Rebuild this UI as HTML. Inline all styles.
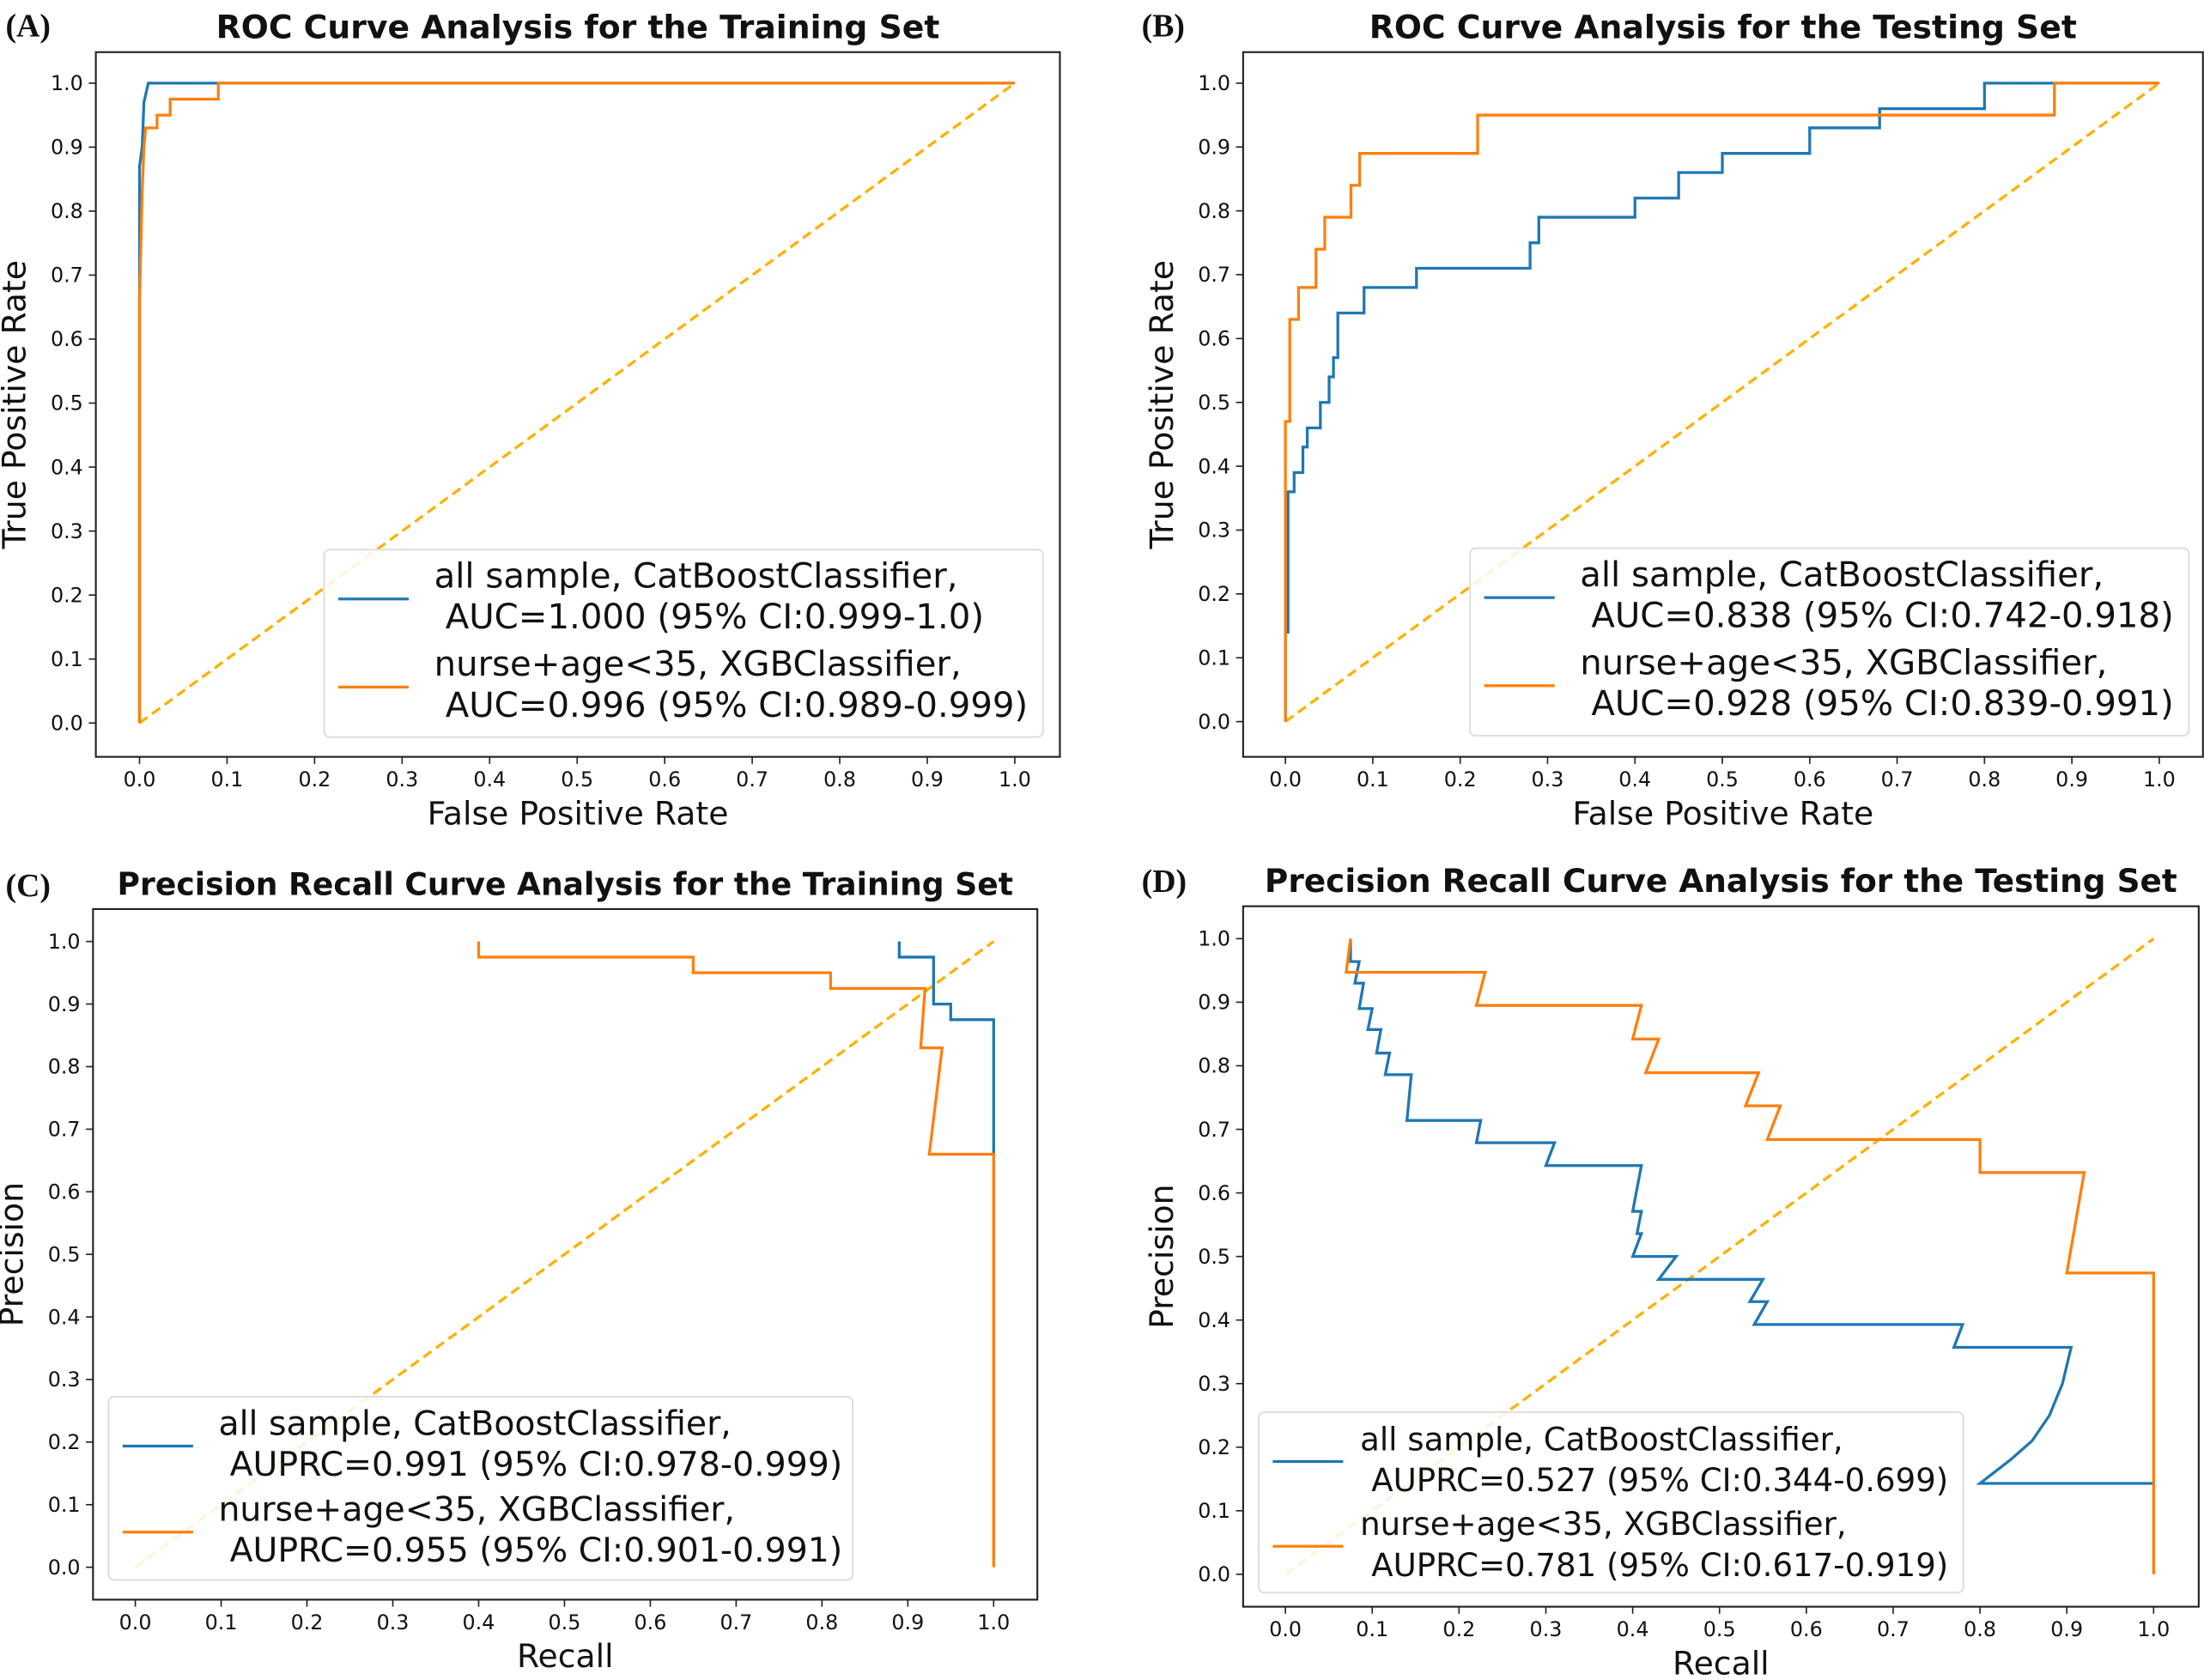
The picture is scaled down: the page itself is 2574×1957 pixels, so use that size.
<!DOCTYPE html>
<html><head><meta charset="utf-8"><style>
html,body{margin:0;padding:0;background:#fff;}
svg{display:block;}
text{font-family:"DejaVu Sans","Liberation Sans",sans-serif;fill:#111;}
</style></head><body>
<svg id="fig" width="2574" height="1957" viewBox="0 0 1568 1192" preserveAspectRatio="none" xmlns="http://www.w3.org/2000/svg"></svg>
<script>
// ---- data ----
const rocTrainBlueX=[0,0,0,0.003,0.005,0.01,1];
const rocTrainBlueY=[0,0.66,0.87,0.9,0.97,1.0,1.0];
const rocTrainOrX=[0,0,0.003,0.005,0.007,0.02,0.02,0.035,0.035,0.09,0.09,1];
const rocTrainOrY=[0,0.66,0.83,0.9,0.93,0.93,0.95,0.95,0.975,0.975,1,1];
const rocTestBlueX=[0,0,0.003,0.003,0.01,0.01,0.02,0.02,0.025,0.025,0.04,0.04,0.05,0.05,0.055,0.055,0.06,0.06,0.09,0.09,0.15,0.15,0.28,0.28,0.29,0.29,0.4,0.4,0.45,0.45,0.5,0.5,0.6,0.6,0.68,0.68,0.8,0.8,1];
const rocTestBlueY=[0,0.14,0.14,0.36,0.36,0.39,0.39,0.43,0.43,0.46,0.46,0.5,0.5,0.54,0.54,0.57,0.57,0.64,0.64,0.68,0.68,0.71,0.71,0.75,0.75,0.79,0.79,0.82,0.82,0.86,0.86,0.89,0.89,0.93,0.93,0.96,0.96,1,1];
const rocTestOrX=[0,0,0.005,0.005,0.015,0.015,0.035,0.035,0.045,0.045,0.075,0.075,0.085,0.085,0.22,0.22,0.88,0.88,1];
const rocTestOrY=[0,0.47,0.47,0.63,0.63,0.68,0.68,0.74,0.74,0.79,0.79,0.84,0.84,0.89,0.89,0.95,0.95,1,1];
const prTrainBlueX=[0.89,0.89,0.93,0.93,0.95,0.95,1.0,1.0];
const prTrainBlueY=[1.0,0.975,0.975,0.9,0.9,0.875,0.875,0.66];
const prTrainOrX=[0.4,0.4,0.65,0.65,0.81,0.81,0.92,0.915,0.94,0.925,1.0,1.0];
const prTrainOrY=[1.0,0.975,0.975,0.95,0.95,0.925,0.925,0.83,0.83,0.66,0.66,0];
const prTestBlueX=[0.075,0.075,0.085,0.08,0.09,0.085,0.1,0.095,0.11,0.105,0.12,0.115,0.145,0.14,0.225,0.22,0.31,0.3,0.41,0.4,0.41,0.405,0.41,0.4,0.45,0.43,0.55,0.535,0.555,0.54,0.78,0.77,0.905,0.895,0.88,0.86,0.835,0.8,1.0];
const prTestBlueY=[1.0,0.964,0.964,0.93,0.93,0.89,0.89,0.857,0.857,0.82,0.82,0.786,0.786,0.714,0.714,0.679,0.679,0.643,0.643,0.571,0.571,0.536,0.536,0.5,0.5,0.464,0.464,0.429,0.429,0.393,0.393,0.357,0.357,0.3,0.25,0.21,0.18,0.143,0.143];
const prTestOrX=[0.075,0.07,0.23,0.22,0.41,0.4,0.43,0.415,0.545,0.53,0.57,0.555,0.8,0.8,0.92,0.9,1.0,1.0];
const prTestOrY=[1.0,0.947,0.947,0.895,0.895,0.842,0.842,0.789,0.789,0.737,0.737,0.684,0.684,0.632,0.632,0.474,0.474,0];
const tickLabels=["0.0","0.1","0.2","0.3","0.4","0.5","0.6","0.7","0.8","0.9","1.0"];
const tickValues=[0,0.1,0.2,0.3,0.4,0.5,0.6,0.7,0.8,0.9,1.0];

const NS="http://www.w3.org/2000/svg";
const svg=document.getElementById('fig');
function mk(tag,attrs,parent,txt){const e=document.createElementNS(NS,tag);for(const k in attrs)e.setAttribute(k,attrs[k]);if(txt!==undefined)e.textContent=txt;(parent||svg).appendChild(e);return e;}

function panel(cfg){
  const g=mk('g',{});
  
  
  const sx=v=>cfg.x0+(cfg.x1-cfg.x0)*v;
  const sy=v=>cfg.y0+(cfg.y1-cfg.y0)*v;
  const fr=mk('rect',{x:cfg.bx0,y:cfg.by0,width:cfg.bx1-cfg.bx0,height:cfg.by1-cfg.by0,fill:'none',stroke:'#222','stroke-width':1.3},g);
  
  
  tickValues.forEach((v,i)=>{
    mk('line',{x1:sx(v),x2:sx(v),y1:cfg.by1,y2:cfg.by1+5,stroke:'#222','stroke-width':1},g);
    const tx=mk('text',{x:sx(v),y:cfg.by1+21,'font-size':14.5,'text-anchor':'middle'},g,tickLabels[i]);
    
    
    mk('line',{x1:cfg.bx0-5,x2:cfg.bx0,y1:sy(v),y2:sy(v),stroke:'#222','stroke-width':1},g);
    const ty=mk('text',{x:cfg.bx0-9,y:sy(v)+5,'font-size':14.5,'text-anchor':'end'},g,tickLabels[i]);
    
    
  });
  const d=mk('line',{x1:sx(0),y1:sy(0),x2:sx(1),y2:sy(1),stroke:'#ffb000','stroke-width':2,'stroke-dasharray':'7,4'},g);
  
  
  function series(xs,ys,color,name){
    const p=xs.map((x,i)=>sx(x).toFixed(2)+','+sy(ys[i]).toFixed(2)).join(' ');
    const l=mk('polyline',{points:p,fill:'none',stroke:color,'stroke-width':2,'stroke-linejoin':'miter'},g);
    
    
  }
  series(cfg.bx,cfg.by,'#1f77b4','catboost-curve');
  series(cfg.ox,cfg.oy,'#ff7f0e','xgb-curve');
  const t=mk('text',{x:(cfg.bx0+cfg.bx1)/2,y:cfg.by0-10,'font-size':cfg.tfs,'font-weight':'bold','text-anchor':'middle'},g,cfg.title);
  
  
  const xl=mk('text',{x:(cfg.bx0+cfg.bx1)/2,y:cfg.by1+48,'font-size':23,'text-anchor':'middle'},g,cfg.xlabel);
  
  
  const yx=cfg.bx0-50, yy=(cfg.by0+cfg.by1)/2;
  const yl=mk('text',{x:yx,y:yy,'font-size':23,'text-anchor':'middle',transform:`rotate(-90 ${yx} ${yy})`},g,cfg.ylabel);
  
  
  const pl=mk('text',{x:cfg.lx,y:cfg.ly,'font-size':23,'font-weight':'bold',style:'font-family:"Liberation Serif",serif'},g,cfg.letter);
  
  
  const L=cfg.leg;
  const lg=mk('g',{},g);
  
  
  mk('rect',{x:L.x,y:L.y,width:L.w,height:L.h,rx:4,fill:'#fff','fill-opacity':0.85,stroke:'#ddd','stroke-width':1.2},lg);
  const rows=[['#1f77b4',cfg.l1a,cfg.l1b],['#ff7f0e',cfg.l2a,cfg.l2b]];
  rows.forEach((r,i)=>{
    const base=L.y+i*L.h*0.47;
    const e=mk('g',{},lg);
    
    
    mk('line',{x1:L.x+10,x2:L.x+60,y1:base+35,y2:base+35,stroke:r[0],'stroke-width':2},e);
    mk('text',{x:L.x+L.tx,y:base+27,'font-size':L.fs},e,r[1]);
    mk('text',{x:L.x+L.tx+8,y:base+56,'font-size':L.fs},e,r[2]);
  });
}

panel({name:'roc-training-panel',letter:'(A)',lx:4,ly:26,tfs:23,title:'ROC Curve Analysis for the Training Set',xlabel:'False Positive Rate',ylabel:'True Positive Rate',
 bx0:68,bx1:752,by0:37,by1:537,x0:99,x1:720,y0:513,y1:59,bx:rocTrainBlueX,by:rocTrainBlueY,ox:rocTrainOrX,oy:rocTrainOrY,
 leg:{x:230,y:390,w:510,h:133,fs:24.5,tx:78},l1a:'all sample, CatBoostClassifier,',l1b:'AUC=1.000 (95% CI:0.999-1.0)',l2a:'nurse+age<35, XGBClassifier,',l2b:'AUC=0.996 (95% CI:0.989-0.999)'});
panel({name:'roc-testing-panel',letter:'(B)',lx:810,ly:26,tfs:23,title:'ROC Curve Analysis for the Testing Set',xlabel:'False Positive Rate',ylabel:'True Positive Rate',
 bx0:882,bx1:1563,by0:37,by1:537,x0:912,x1:1532,y0:512,y1:59,bx:rocTestBlueX,by:rocTestBlueY,ox:rocTestOrX,oy:rocTestOrY,
 leg:{x:1043,y:389,w:510,h:133,fs:24.5,tx:78},l1a:'all sample, CatBoostClassifier,',l1b:'AUC=0.838 (95% CI:0.742-0.918)',l2a:'nurse+age<35, XGBClassifier,',l2b:'AUC=0.928 (95% CI:0.839-0.991)'});
panel({name:'pr-training-panel',letter:'(C)',lx:4,ly:636,tfs:22,title:'Precision Recall Curve Analysis for the Training Set',xlabel:'Recall',ylabel:'Precision',
 bx0:66,bx1:736,by0:645,by1:1135,x0:96,x1:705,y0:1112,y1:668,bx:prTrainBlueX,by:prTrainBlueY,ox:prTrainOrX,oy:prTrainOrY,
 leg:{x:77,y:991,w:528,h:130,fs:24,tx:78},l1a:'all sample, CatBoostClassifier,',l1b:'AUPRC=0.991 (95% CI:0.978-0.999)',l2a:'nurse+age<35, XGBClassifier,',l2b:'AUPRC=0.955 (95% CI:0.901-0.991)'});
panel({name:'pr-testing-panel',letter:'(D)',lx:810,ly:633,tfs:22.8,title:'Precision Recall Curve Analysis for the Testing Set',xlabel:'Recall',ylabel:'Precision',
 bx0:882,bx1:1560,by0:643,by1:1140,x0:912,x1:1528,y0:1117,y1:666,bx:prTestBlueX,by:prTestBlueY,ox:prTestOrX,oy:prTestOrY,
 leg:{x:893,y:1002,w:500,h:128,fs:22.6,tx:72},l1a:'all sample, CatBoostClassifier,',l1b:'AUPRC=0.527 (95% CI:0.344-0.699)',l2a:'nurse+age<35, XGBClassifier,',l2b:'AUPRC=0.781 (95% CI:0.617-0.919)'});
</script>
</body></html>
